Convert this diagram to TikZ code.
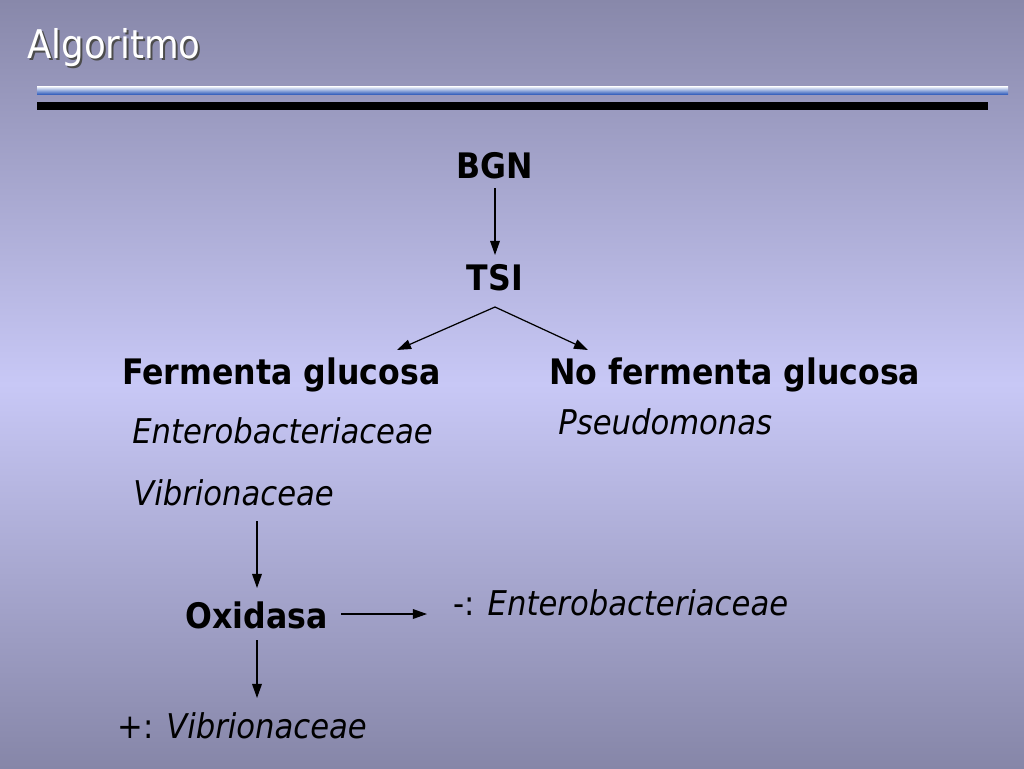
\documentclass[tikz,border=0pt]{standalone}
\usepackage{fontspec}
\setmainfont{DejaVu Sans Condensed}
\usetikzlibrary{positioning,arrows.meta}

\definecolor{slidetop}{RGB}{136,136,170}
\definecolor{slidemid}{RGB}{200,200,246}
\definecolor{slidebot}{RGB}{134,134,168}
\definecolor{ruleblue}{RGB}{58,100,190}

\begin{document}
\begin{tikzpicture}[x=0.02cm,y=-0.02cm,
    every node/.style={inner sep=0pt},
    head/.style={font=\bfseries\fontsize{20}{24}\selectfont},
    taxon/.style={font=\itshape\fontsize{19.4}{23}\selectfont},
    plain/.style={font=\fontsize{19.4}{23}\selectfont},
    arr/.style={-{Triangle[length=8pt,width=5.5pt]},line width=0.7pt}]
    % background and title bars
    \shade[top color=slidetop,bottom color=slidebot,middle color=slidemid]
        (0,0) rectangle (1024,768);
    \useasboundingbox (0,0) rectangle (1024,768);
    \shade[top color=white,bottom color=ruleblue] (37,86) rectangle (1008,94);
    \fill[black] (37,102) rectangle (988,110);
    \node[anchor=base west,text=black!70,font=\fontsize{22.5}{26}\selectfont]
        (shadow) at (29,60) {Algoritmo};
    \node[anchor=base west,text=white,font=\fontsize{22.5}{26}\selectfont]
        (title) at (27,58) {Algoritmo};

    % tree
    \node[head,anchor=base] (BGN) at (495,178) {BGN};
    \node[head,anchor=base] (TSI) at (495,290) {TSI};
    \node[head,anchor=base west] (ferm) at (122,384) {Fermenta glucosa};
    \node[head,anchor=base west] (noferm) at (549,384) {No fermenta glucosa};
    \node[taxon,anchor=base west] (entero) at (132,443) {Enterobacteriaceae};
    \node[taxon,anchor=base west] (vibrio) at (133,505) {Vibrionaceae};
    \node[taxon,anchor=base west] (pseudo) at (558,434) {Pseudomonas};
    \node[head,anchor=base west] (oxi) at (185,628) {Oxidasa};
    \node[plain,anchor=base west] (neg) at (453,615) {-: \textit{Enterobacteriaceae}};
    \node[plain,anchor=base west] (pos) at (117,738) {+: \textit{Vibrionaceae}};

    \coordinate (split) at (495,307);
    \coordinate (toferm) at (397,350);
    \coordinate (tonoferm) at (588,350);
    \coordinate (vibdown) at (257,521);
    \coordinate (oxiup) at (257,588);
    \coordinate (oxidown) at (257,640);
    \coordinate (posup) at (257,698);
    \coordinate (oxiright) at (341,614);
    \coordinate (negleft) at (427,614);

    \draw[arr] (BGN.south |- 0,188) -- (TSI.north |- 0,255);
    \draw[arr] (split) -- (toferm);
    \draw[arr] (split) -- (tonoferm);
    \draw[arr] (vibdown) -- (oxiup);
    \draw[arr] (oxidown) -- (posup);
    \draw[arr] (oxiright) -- (negleft);
\end{tikzpicture}
\end{document}
